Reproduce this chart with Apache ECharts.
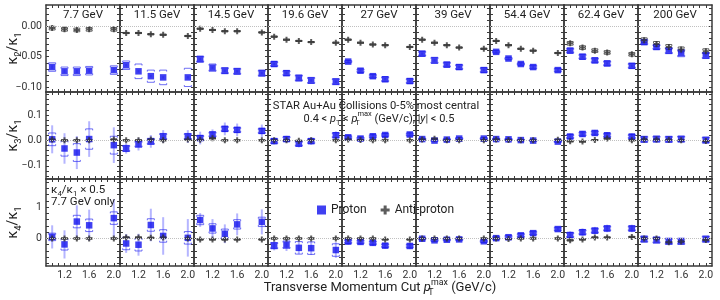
<!DOCTYPE html>
<html><head><meta charset="utf-8">
<script src="https://cdn.jsdelivr.net/npm/echarts@6/dist/echarts.min.js"></script>
<style>html,body{margin:0;padding:0;background:#fff}#c{width:720px;height:300px}</style>
</head><body><div id="c"></div><script>
// ---------------- DATA ----------------
const energies = ['7.7 GeV','11.5 GeV','14.5 GeV','19.6 GeV','27 GeV','39 GeV','54.4 GeV','62.4 GeV','200 GeV'];
const ptCuts = [1.0, 1.2, 1.4, 1.6, 2.0];
const xTickLabels = [1.2, 1.6, 2.0];

// kappa2/kappa1
const pK2 = [
  [-0.067,-0.074,-0.074,-0.073,-0.072],
  [-0.064,-0.074,-0.082,-0.084,-0.084],
  [-0.054,-0.068,-0.073,-0.074,-0.077],
  [-0.062,-0.077,-0.085,-0.089,-0.091],
  [-0.058,-0.073,-0.082,-0.087,-0.090],
  [-0.045,-0.056,-0.063,-0.067,-0.072],
  [-0.042,-0.053,-0.062,-0.067,-0.072],
  [-0.040,-0.050,-0.056,-0.061,-0.065],
  [-0.026,-0.034,-0.040,-0.044,-0.048]];
const pK2Stat = [0.003,0.002,0.002,0.002,0.002,0.002,0.002,0.002,0.002];
const pK2Sys = [
  [0.007,0.007,0.007,0.007,0.007],
  [0.007,0.012,0.010,0.012,0.015],
  [0.005,0.006,0.005,0.005,0.005],
  [0.004,0.004,0.005,0.005,0.005],
  [0.002,0.003,0.003,0.004,0.004],
  [0.004,0.005,0.004,0.004,0.004],
  [0.002,0.002,0.002,0.003,0.003],
  [0.004,0.004,0.004,0.004,0.004],
  [0.004,0.004,0.005,0.006,0.005]];
const aK2 = [
  [-0.003,-0.005,-0.006,-0.005,-0.005],
  [-0.011,-0.011,-0.013,-0.014,-0.016],
  [-0.004,-0.006,-0.008,-0.008,-0.010],
  [-0.017,-0.022,-0.024,-0.026,-0.027],
  [-0.022,-0.027,-0.030,-0.031,-0.034],
  [-0.022,-0.027,-0.031,-0.035,-0.037],
  [-0.024,-0.031,-0.037,-0.040,-0.044],
  [-0.028,-0.035,-0.040,-0.043,-0.046],
  [-0.023,-0.029,-0.034,-0.038,-0.041]];
const aK2Stat = [0.003,0.001,0.001,0.001,0.001,0.001,0.001,0.002,0.003];
const aK2Sys = [0.003,0.001,0.001,0.001,0.001,0.001,0.001,0.003,0.004];

// kappa3/kappa1
const pK3 = [
  [0.004,-0.032,-0.048,0.005,-0.019],
  [-0.032,-0.015,-0.004,0.015,0.015],
  [0.009,0.023,0.045,0.041,0.037],
  [-0.003,0.005,-0.013,-0.003,0.020],
  [0.012,0.007,0.016,0.021,0.023],
  [0.005,-0.001,0.003,0.007,0.007],
  [0.005,0.004,0.001,-0.001,-0.005],
  [0.015,0.025,0.029,0.020,0.015],
  [0.004,0.005,0.004,0.005,0.001]];
const pK3Stat = [
  [0.055,0.060,0.065,0.070,0.070],
  [0.020,0.025,0.025,0.025,0.025],
  [0.025,0.020,0.025,0.025,0.025],
  [0.013,0.013,0.015,0.015,0.015],
  0.010, 0.005, 0.004, 0.012, 0.005];
const pK3Sys = [
  [0.025,0.030,0.035,0.040,0.035],
  0.012, 0.010, 0.010, 0.006, 0.004, 0.003, 0.008, 0.012];
const aK3 = [
  [0.003,0.000,0.000,0.000,0.003],
  [0.000,0.000,0.003,0.000,0.003],
  [0.002,0.008,0.000,0.000,0.000],
  [0.000,0.000,-0.002,0.000,0.000],
  [0.003,0.001,0.000,0.000,0.000],
  [0.003,0.006,0.000,0.000,0.000],
  [0.003,0.001,0.000,0.000,0.002],
  [-0.004,-0.005,0.001,0.007,0.000],
  [0.003,0.003,0.002,0.000,-0.003]];
const aK3Stat = [0.004,0.004,0.004,0.003,0.003,0.003,0.003,0.004,0.004];
const aK3Sys = [0.002,0.002,0.002,0.002,0.002,0.002,0.002,0.002,0.003];

// kappa4/kappa1 (7.7 GeV already x0.5)
const pK4 = [
  [0.05,-0.19,0.54,0.42,0.65],
  [-0.16,-0.20,0.43,0.08,0.02],
  [0.59,0.32,0.15,0.45,0.53],
  [-0.23,-0.20,-0.30,-0.31,-0.37],
  [-0.10,-0.11,-0.14,-0.23,-0.24],
  [-0.01,-0.06,-0.04,-0.03,-0.09],
  [0.01,0.04,0.10,0.17,0.30],
  [0.11,0.20,0.25,0.32,0.32],
  [-0.02,-0.05,-0.09,-0.09,-0.02]];
const pK4Stat = [
  [0.37,0.45,0.52,0.50,0.60],
  [0.30,0.35,0.52,0.60,0.60],
  [0.22,0.30,0.30,0.35,0.40],
  [0.15,0.20,0.20,0.22,0.25],
  0.10, 0.05, 0.04, 0.12, 0.05];
const pK4Sys = [
  [0.12,0.18,0.20,0.20,0.20],
  0.20, 0.15,
  [0.10,0.12,0.20,0.20,0.20],
  0.06, 0.04, 0.06, 0.08, 0.10];
const aK4 = [
  [0,0,0,0,0],
  [0.03,0.03,0.02,0.03,0.00],
  [-0.03,-0.03,-0.03,-0.03,-0.03],
  [0,0,0,0,0],
  [0,0,0,-0.03,-0.03],
  [0,0,0,0,0],
  [0,-0.02,0,0,0],
  [-0.06,-0.03,0.03,0.03,0.05],
  [0,0,-0.12,-0.10,-0.05]];
const aK4Stat = [0.03,0.03,0.03,0.02,0.02,0.02,0.02,0.04,0.05];
const aK4Sys = [0.02,0.02,0.02,0.02,0.02,0.02,0.02,0.02,0.03];

// ---------------- LAYOUT / STYLE ----------------
const FONT = 'Roboto';
const PCOL = '#1010ee';
const ACOL = '#333333';
const FRAME = '#3a3a3a';
const TXT = '#222';
const panelLeft = 46, panelW = 74, panelH = 87;
const rowTops = [5, 92, 179];

function stepList(a, b, s) { const out = []; for (let v = a; v <= b + s / 1000; v += s) out.push(+v.toFixed(4)); return out; }
const rows = [
  { p: pK2, pS: pK2Stat, pY: pK2Sys, a: aK2, aS: aK2Stat, aY: aK2Sys,
    min: -0.108, max: 0.035, labels: [-0.10, -0.05, 0.00], ticks: stepList(-0.10, 0.03, 0.01), dec: 2 },
  { p: pK3, pS: pK3Stat, pY: pK3Sys, a: aK3, aS: aK3Stat, aY: aK3Sys,
    min: -0.152, max: 0.19, labels: [-0.1, 0.0, 0.1], ticks: stepList(-0.14, 0.18, 0.02), dec: 1 },
  { p: pK4, pS: pK4Stat, pY: pK4Sys, a: aK4, aS: aK4Stat, aY: aK4Sys,
    min: -0.88, max: 1.9, labels: [0, 1], ticks: stepList(-0.8, 1.8, 0.2), dec: 0 }
];
function at(arr, e, i) { const v = arr[e]; return Array.isArray(v) ? v[i] : v; }
const xTicks = stepList(1.0, 2.0, 0.1);
const fmt = (v, d) => { const s = (Math.abs(v) < 1e-9 ? 0 : v).toFixed(d); return s.replace('-', '\u2212'); };

function errRender(statCol, sysCol, statW, capHalf) {
  return function (params, api) {
    const x = api.value(0), y = api.value(1), st = api.value(2), sy = api.value(3);
    const a = api.coord([x, y - st]), b = api.coord([x, y + st]);
    const c = api.coord([x, y - sy]), d = api.coord([x, y + sy]);
    const cx = a[0], w = capHalf, h = 1.5;
    return { type: 'group', children: [
      { type: 'line', shape: { x1: cx, y1: a[1], x2: cx, y2: b[1] }, style: { stroke: statCol, lineWidth: statW } },
      { type: 'polyline', shape: { points: [[cx - w, d[1] + h], [cx - w, d[1]], [cx + w, d[1]], [cx + w, d[1] + h]] }, style: { stroke: sysCol, lineWidth: 1, fill: null } },
      { type: 'polyline', shape: { points: [[cx - w, c[1] - h], [cx - w, c[1]], [cx + w, c[1]], [cx + w, c[1] - h]] }, style: { stroke: sysCol, lineWidth: 1, fill: null } }
    ] };
  };
}
const plusPath = 'path://M2,0 H4 V2 H6 V4 H4 V6 H2 V4 H0 V2 H2 Z';

const grid = [], xAxis = [], yAxis = [], series = [];
const lineStyle = { color: FRAME, width: 1.5 };
const tickStyle = { color: FRAME, width: 1 };
rows.forEach((R, r) => {
  energies.forEach((en, c) => {
    const gi = r * 9 + c;
    grid.push({ left: panelLeft + panelW * c, top: rowTops[r], width: panelW, height: panelH });
    ['bottom', 'top'].forEach(pos => xAxis.push({
      gridIndex: gi, type: 'value', min: 0.9, max: 2.1, position: pos,
      axisLine: { show: true, onZero: false, lineStyle },
      axisTick: { show: true, inside: true, length: 3, customValues: xTicks, lineStyle: tickStyle },
      axisLabel: { show: pos === 'bottom' && r === 2, customValues: xTickLabels, formatter: v => v.toFixed(1),
        margin: 4, fontSize: 10.5, fontFamily: FONT, color: '#333' },
      splitLine: { show: false }
    }));
    ['left', 'right'].forEach(pos => yAxis.push({
      gridIndex: gi, type: 'value', min: R.min, max: R.max, position: pos,
      axisLine: { show: true, onZero: false, lineStyle },
      axisTick: { show: true, inside: true, length: 3, customValues: R.ticks, lineStyle: tickStyle },
      axisLabel: { show: pos === 'left' && c === 0, customValues: R.labels, formatter: v => fmt(v, R.dec),
        margin: 4, fontSize: 10.5, fontFamily: FONT, color: '#333' },
      splitLine: { show: false }
    }));
    const xi = 2 * gi, yi = 2 * gi;
    series.push({
      type: 'custom', name: 'pErr', xAxisIndex: xi, yAxisIndex: yi, z: 2, silent: true,
      renderItem: errRender('rgba(70,70,255,0.4)', 'rgba(50,50,240,0.7)', 2, 3.5),
      encode: { x: 0, y: 1 },
      data: ptCuts.map((x, i) => [x, R.p[c][i], at(R.pS, c, i), at(R.pY, c, i)])
    });
    series.push({
      type: 'custom', name: 'aErr', xAxisIndex: xi, yAxisIndex: yi, z: 2, silent: true,
      renderItem: errRender('rgba(40,40,40,0.6)', 'rgba(60,60,60,0.8)', 1.5, 3),
      encode: { x: 0, y: 1 },
      data: ptCuts.map((x, i) => [x, R.a[c][i], at(R.aS, c, i), at(R.aY, c, i)])
    });
    series.push({
      type: 'scatter', name: 'Proton', xAxisIndex: xi, yAxisIndex: yi, z: 3,
      symbol: 'rect', symbolSize: 6.5, itemStyle: { color: PCOL },
      data: ptCuts.map((x, i) => [x, R.p[c][i]]),
      markLine: { silent: true, symbol: ['none', 'none'], label: { show: false },
        lineStyle: { color: '#c0c0c0', type: 'dotted', width: 1 }, data: [{ yAxis: 0 }] }
    });
    series.push({
      type: 'scatter', name: 'Anti-proton', xAxisIndex: xi, yAxisIndex: yi, z: 4,
      symbol: plusPath, symbolSize: 6, itemStyle: { color: ACOL },
      data: ptCuts.map((x, i) => [x, R.a[c][i]])
    });
  });
});

// ---------- rich-text helpers ----------
function richStyles(base) {
  return {
    a: { fontSize: base, lineHeight: base * 1.45, fontFamily: FONT, fill: TXT },
    i: { fontSize: base, lineHeight: base * 1.45, fontFamily: FONT, fontStyle: 'italic', fill: TXT },
    sub: { fontSize: base * 0.68, lineHeight: base * 0.7, fontFamily: FONT, fill: TXT, verticalAlign: 'bottom' },
    sub0: { fontSize: base * 0.68, lineHeight: base * 0.7, fontFamily: FONT, fill: TXT, verticalAlign: 'bottom', width: 0.1, align: 'left' },
    sup: { fontSize: base * 0.68, lineHeight: base * 0.7, fontFamily: FONT, fill: TXT, verticalAlign: 'top' }
  };
}
function richText(x, y, text, base, align, rotation) {
  return { type: 'text', x, y, rotation: rotation || 0, silent: true, z: 100,
    style: { text, rich: richStyles(base), fontSize: base, fontFamily: FONT, fill: TXT,
      align: align || 'center', verticalAlign: 'middle' } };
}
function plainText(x, y, text, size, align) {
  return { type: 'text', x, y, silent: true, z: 100,
    style: { text, fontSize: size, fontFamily: FONT, fill: TXT, align: align || 'center', verticalAlign: 'middle' } };
}

const graphic = [];
energies.forEach((en, c) => graphic.push(plainText(panelLeft + panelW * c + panelW / 2, 15, en, 11.5)));
[['2', 48.5], ['3', 135.5], ['4', 222.5]].forEach(([n, cy]) => {
  graphic.push(richText(13, cy, '{a|\u03ba}{sub|' + n + '}{a|/\u03ba}{sub|1}', 14, 'center', Math.PI / 2));
});
graphic.push(richText(380, 288, '{a|Transverse Momentum Cut }{i|p}{sub0|T}{sup|max}{a| (GeV/c)}', 13, 'center'));
graphic.push(plainText(376, 106, 'STAR Au+Au Collisions 0-5% most central', 11.2));
graphic.push(richText(379, 119, '{a|0.4 < }{i|p}{sub|T}{a| < }{i|p}{sub0|T}{sup|max}{a| (GeV/c), |}{i|y}{a|| < 0.5}', 11, 'center'));
graphic.push(richText(51, 190, '{a|\u03ba}{sub|4}{a|/\u03ba}{sub|1}{a| \u00d7 0.5}', 11.5, 'left'));
graphic.push(plainText(51, 202, '7.7 GeV only', 11.5, 'left'));

const chart = echarts.init(document.getElementById('c'), null, { renderer: 'canvas' });
chart.setOption({
  animation: false,
  backgroundColor: '#ffffff',
  textStyle: { fontFamily: FONT },
  grid, xAxis, yAxis, series, graphic,
  legend: { left: 312, top: 199, itemWidth: 9, itemHeight: 9, itemGap: 14, selectedMode: false, z: 100,
    textStyle: { fontSize: 12, fontFamily: FONT, color: TXT },
    data: [{ name: 'Proton', icon: 'rect' }, { name: 'Anti-proton', icon: plusPath }] }
});
</script></body></html>
